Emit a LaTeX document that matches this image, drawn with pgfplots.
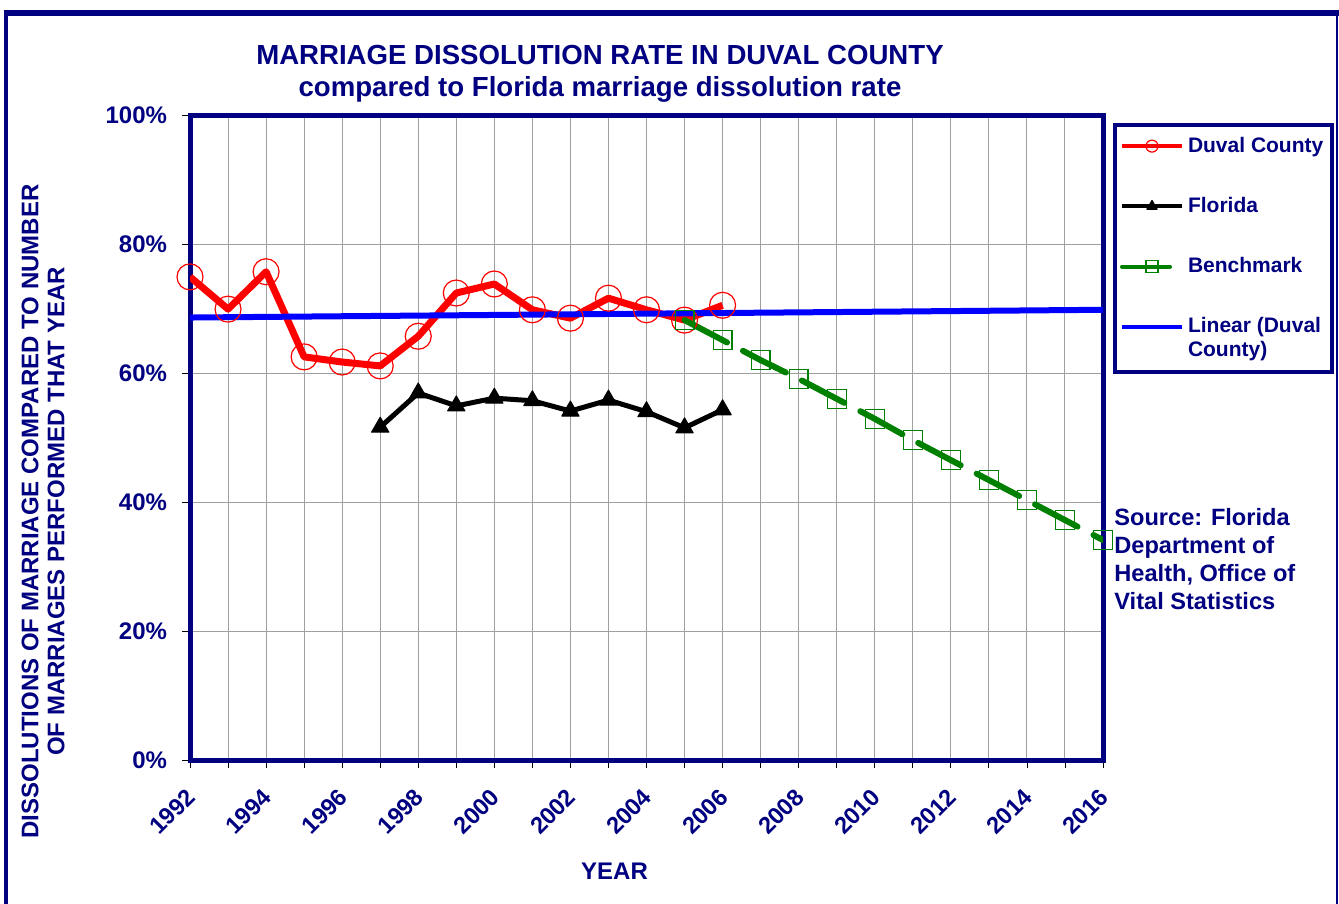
\documentclass[border=0pt]{standalone}
\usepackage{fontspec}
\setmainfont{Liberation Sans}
\usepackage{pgfplots}
\pgfplotsset{compat=1.18}
\definecolor{navy}{RGB}{0,0,128}
\definecolor{xlred}{RGB}{255,0,0}
\definecolor{xlgreen}{RGB}{0,128,0}
\definecolor{xlblue}{RGB}{0,0,255}
\pgfplotsset{shiftedlegend/.style={legend image code/.code={\draw[##1] (0pt,6pt) -- (30pt,6pt);}}}

\begin{document}
\begin{tikzpicture}
\path[use as bounding box] (0,0) rectangle (669.5pt,-452pt);
% outer frame
\draw[navy,line width=2pt] (3pt,-470pt) -- (3pt,-6.5pt);
\draw[navy,line width=3pt] (2pt,-6.5pt) -- (669.5pt,-6.5pt);
\draw[navy,line width=1pt] (668.5pt,-6.5pt) -- (668.5pt,-470pt);

\begin{axis}[
  at={(95pt,-380pt)}, anchor=south west,
  width=456.5pt, height=322.5pt, scale only axis,
  xmin=1992, xmax=2016, ymin=0, ymax=100,
  xtick={1992,1994,...,2016},
  minor xtick={1993,1995,...,2015},
  ytick={0,20,...,100},
  grid=both,
  major grid style={gray!75, line width=0.5pt},
  minor grid style={gray!75, line width=0.5pt},
  axis line style={navy, line width=2.5pt},
  tick align=outside,
  xtick pos=bottom, ytick pos=left,
  major tick length=4pt, minor tick length=4pt,
  tick style={black, line width=0.4pt},
  /pgf/number format/assume math mode=true,
  /pgf/number format/1000 sep={},
  ticklabel style={font=\bfseries\fontsize{12}{14}\selectfont, text=navy},
  y tick label style={xshift=-4pt},
  yticklabel={\pgfmathprintnumber{\tick}\%},
  x tick label style={font=\bfseries\fontsize{11.8}{13}\selectfont, xshift=3pt, yshift=-10pt, rotate=45, anchor=east},
  legend style={at={(1,1)}, anchor=north west, xshift=5pt, yshift=-4pt,
    draw=navy, line width=2pt, fill=white,
    font=\bfseries\fontsize{10.5}{12}\selectfont, text=navy,
    row sep=17pt, inner xsep=2.5pt, inner ysep=4pt, cells={align=left}},
  legend cell align=left,
  legend image code/.code={\draw[mark repeat=2,mark phase=2,#1] plot coordinates {(0pt,0pt) (15pt,0pt) (30pt,0pt)};},
  legend image post style={mark size=3pt, line width=2pt},
]
\addplot[xlred, line width=3.5pt, line join=round, mark=o, mark size=6.5pt,
  mark options={line width=0.6pt, solid}] coordinates {
  (1992,74.9) (1993,69.9) (1994,75.7) (1995,62.5) (1996,61.7) (1997,61.1)
  (1998,65.7) (1999,72.4) (2000,73.8) (2001,69.8) (2002,68.5) (2003,71.6)
  (2004,69.8) (2005,68.2) (2006,70.5)};
\addlegendentry{Duval County}
\addplot[black, line width=2.5pt, line join=round, mark=triangle*, mark size=5pt,
  mark options={line width=0.5pt}] coordinates {
  (1997,51.6) (1998,56.9) (1999,54.9) (2000,56.1) (2001,55.7) (2002,54.1)
  (2003,55.8) (2004,54.0) (2005,51.5) (2006,54.3)};
\addlegendentry{Florida}
\addplot[xlgreen, line width=3pt, dash pattern=on 24pt off 9pt, line cap=round,
  mark=square, mark size=4.7pt, mark options={solid, line width=0.6pt}] coordinates {
  (2005,68.2) (2006,65.1) (2007,62.0) (2008,59.1) (2009,56.0) (2010,52.9)
  (2011,49.6) (2012,46.5) (2013,43.4) (2014,40.3) (2015,37.2) (2016,34.1)};
\addlegendentry{Benchmark}
\addplot[xlblue, line width=3pt, shiftedlegend]
  coordinates {(1992,68.6) (2016,69.8)};
\addlegendentry{Linear (Duval\\County)}
\end{axis}

\node[anchor=north, inner sep=0pt, align=center, text=navy,
  font=\bfseries\fontsize{13.8}{16}\selectfont] at (300pt,-22.5pt)
  {MARRIAGE DISSOLUTION RATE IN DUVAL COUNTY\\compared to Florida marriage dissolution rate};
\node[rotate=90, align=center, text=navy, font=\bfseries\fontsize{12}{13}\selectfont]
  at (21.5pt,-255.75pt)
  {DISSOLUTIONS OF MARRIAGE COMPARED TO NUMBER\\OF MARRIAGES PERFORMED THAT YEAR};
\node[text=navy, font=\bfseries\fontsize{12}{14}\selectfont] at (307.25pt,-435.75pt) {YEAR};
\node[anchor=north west, inner sep=0pt, align=left, text=navy,
  font=\bfseries\fontsize{11.8}{14}\selectfont] at (557pt,-254pt)
  {Source: Florida\\Department of\\Health, Office of\\Vital Statistics};
\end{tikzpicture}
\end{document}
